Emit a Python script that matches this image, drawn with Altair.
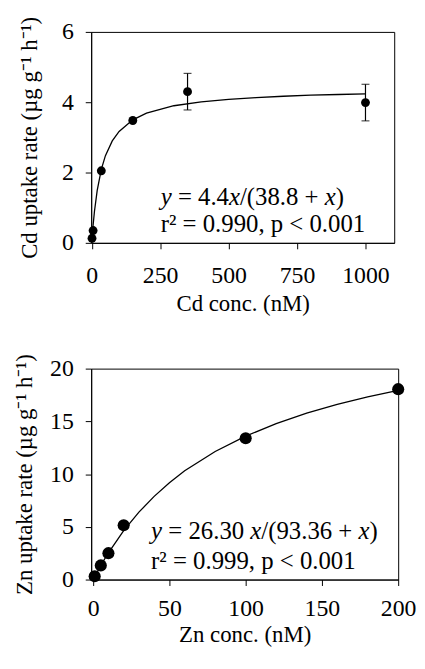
import altair as alt
import pandas as pd

# ---- data ----
cd_x = [1, 5, 35, 150, 350, 1000]
cd_y = [0.13, 0.35, 2.05, 3.48, 4.30, 3.99]
cd_err = [0, 0, 0, 0, 0.52, 0.52]

cd_curve_x = [0, 2, 5, 10, 20, 35, 50, 75, 100, 150, 200, 300, 400, 500, 600, 700, 800, 900, 1000]
cd_curve_y = [0, 0.22, 0.50, 0.90, 1.49, 2.09, 2.48, 2.90, 3.17, 3.50, 3.69, 3.90, 4.01, 4.08, 4.13, 4.17, 4.20, 4.22, 4.24]

zn_x = [1, 5, 10, 20, 100, 200]
zn_y = [0.31, 1.34, 2.50, 5.15, 13.4, 18.05]

zn_curve_x = [0, 5, 10, 20, 30, 40, 50, 60, 80, 100, 120, 140, 160, 180, 200]
zn_curve_y = [0, 1.34, 2.54, 4.64, 6.39, 7.89, 9.18, 10.31, 12.14, 13.60, 14.79, 15.78, 16.61, 17.32, 17.93]

cd_ticks_x = [0, 250, 500, 750, 1000]
cd_ticks_y = [0, 2, 4, 6]
zn_ticks_x = [0, 50, 100, 150, 200]
zn_ticks_y = [0, 5, 10, 15, 20]

cd_eq1 = [("y", True), (" = 4.4", False), ("x", True), ("/(38.8 + ", False), ("x", True), (")", False)]
cd_eq2 = "r² = 0.990, p < 0.001"
zn_eq1 = [("y", True), (" = 26.30 ", False), ("x", True), ("/(93.36 + ", False), ("x", True), (")", False)]
zn_eq2 = "r² = 0.999, p < 0.001"

FONT = "Liberation Serif"
FS = 24
EQ_FS = 25

# Times-compatible advance widths (per em) for placing the italic pieces
W = {" ": 0.25, "=": 0.564, "+": 0.564, ".": 0.25, ",": 0.25, "/": 0.278,
     "(": 0.333, ")": 0.333, "<": 0.564, "x": 0.444, "y": 0.444}
def width(s):
    return sum(W.get(c, 0.5) for c in s) * EQ_FS


def equation_layers(pieces, xval, yval):
    layers = []
    off = 0.0
    for txt, ital in pieces:
        core = txt.strip(" ")
        lead = len(txt) - len(txt.lstrip(" "))
        trail = len(txt) - len(txt.rstrip(" "))
        off += lead * W[" "] * EQ_FS
        df = pd.DataFrame({"x": [xval], "y": [yval], "t": [core]})
        layers.append(
            alt.Chart(df).mark_text(
                align="left", baseline="middle", dx=round(off, 2), font=FONT,
                fontSize=EQ_FS, fontStyle="italic" if ital else "normal", color="black"
            ).encode(x="x:Q", y="y:Q", text="t:N")
        )
        off += width(core) + trail * W[" "] * EQ_FS
    return layers


def panel(px, py, perr, cx, cy, xdom, ydom, xticks, yticks, xtitle, ytitle,
          eq1, eq2, eqx, eqy1, eqy2, size, w, h, xlp, xtp, ytp):
    pts = pd.DataFrame({"x": px, "y": py, "err": perr})
    pts["lo"] = pts["y"] - pts["err"]
    pts["hi"] = pts["y"] + pts["err"]
    errs = pts[pts["err"] > 0]
    curve = pd.DataFrame({"x": cx, "y": cy})

    xenc = alt.X("x:Q", scale=alt.Scale(domain=xdom, nice=False, zero=False),
                 axis=alt.Axis(values=xticks, title=xtitle, format="d",
                               labelPadding=xlp, titlePadding=xtp))
    yenc = alt.Y("y:Q", scale=alt.Scale(domain=ydom, nice=False),
                 axis=alt.Axis(values=yticks, title=ytitle, format="d",
                               labelPadding=12, titlePadding=ytp))

    line = alt.Chart(curve).mark_line(color="black", strokeWidth=1.3).encode(x=xenc, y=yenc)
    dots = alt.Chart(pts).mark_circle(color="black", opacity=1, size=size).encode(x="x:Q", y="y:Q")
    layers = [line, dots]
    if len(errs):
        rule = alt.Chart(errs).mark_rule(color="black", strokeWidth=1.2).encode(
            x="x:Q", y="lo:Q", y2="hi:Q")
        cap_lo = alt.Chart(errs).mark_tick(color="black", orient="horizontal", size=8,
                                           thickness=1.2).encode(x="x:Q", y="lo:Q")
        cap_hi = alt.Chart(errs).mark_tick(color="black", orient="horizontal", size=8,
                                           thickness=1.2).encode(x="x:Q", y="hi:Q")
        layers += [rule, cap_lo, cap_hi]
    layers += equation_layers(eq1, eqx, eqy1)
    df2 = pd.DataFrame({"x": [eqx], "y": [eqy2], "t": [eq2]})
    layers.append(alt.Chart(df2).mark_text(align="left", baseline="middle", font=FONT,
                                           fontSize=EQ_FS, color="black").encode(
        x="x:Q", y="y:Q", text="t:N"))
    return alt.layer(*layers).properties(width=w, height=h)


top = panel(cd_x, cd_y, cd_err, cd_curve_x, cd_curve_y, [-2, 1105], [0, 6],
            cd_ticks_x, cd_ticks_y, "Cd conc. (nM)", "Cd uptake rate (µg g⁻¹ h⁻¹)",
            cd_eq1, cd_eq2, 252, 1.30, 0.54, 80, 306, 213, 15, 5, 20)
bottom = panel(zn_x, zn_y, [0] * len(zn_x), zn_curve_x, zn_curve_y, [-1.3, 200], [0, 20],
               zn_ticks_x, zn_ticks_y, "Zn conc. (nM)", "Zn uptake rate (µg g⁻¹ h⁻¹)",
               zn_eq1, zn_eq2, 38, 4.6, 1.75, 150, 310, 213, 11, 4, 13)

chart = alt.vconcat(top, bottom, spacing=37).properties(
    padding={"left": 5, "top": 4, "right": 0, "bottom": 0},
    background="white",
).configure_view(stroke="black", strokeWidth=1).configure_axis(
    grid=False, domainColor="black", tickColor="black", labelColor="black",
    titleColor="black", labelFont=FONT, titleFont=FONT, labelFontSize=FS,
    titleFontSize=23, titleFontWeight="normal", tickSize=6,
    domainWidth=1, tickWidth=1, labelFlush=False,
)

chart.save("out.html", embed_options={"renderer": "svg", "actions": False})
